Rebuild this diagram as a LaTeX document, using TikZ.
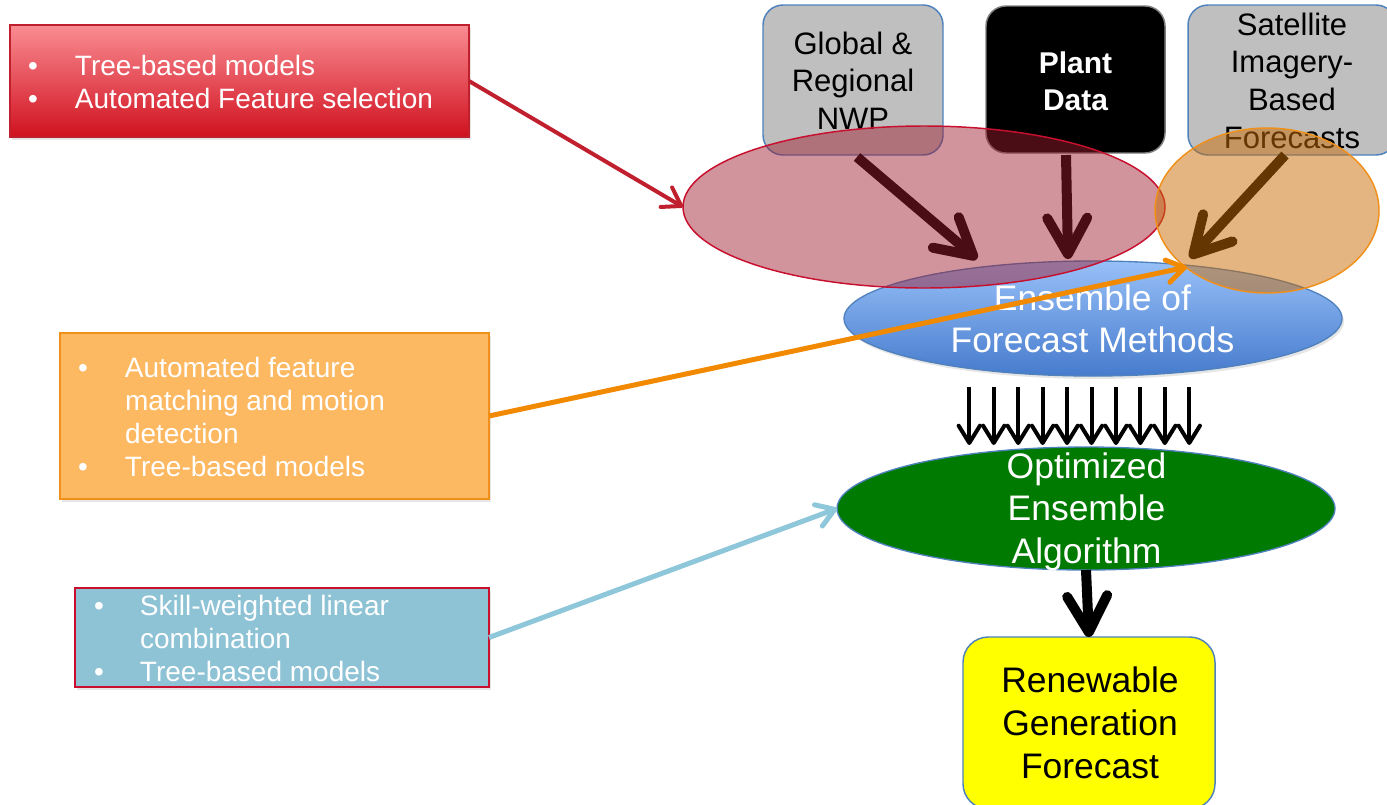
\documentclass[tikz,border=0pt]{standalone}
\usepackage{fontspec}
\setmainfont{Liberation Sans}
\usetikzlibrary{arrows.meta,shapes.geometric,shadows}
\definecolor{redtop}{HTML}{FA8C92}
\definecolor{redbot}{HTML}{D0111F}
\definecolor{redline}{HTML}{C01F2E}
\definecolor{orgfill}{HTML}{FDB862}
\definecolor{orgline}{HTML}{F0901A}
\definecolor{bluefill}{HTML}{8EC3D6}
\definecolor{blueboxline}{HTML}{C8102E}
\definecolor{boxline}{HTML}{4F81BD}
\definecolor{boxgray}{HTML}{BFBFBF}
\definecolor{plantline}{HTML}{7F7F7F}
\definecolor{enstop}{HTML}{98C0F8}
\definecolor{ensbot}{HTML}{467BCD}
\definecolor{grn}{HTML}{007A00}
\definecolor{ylw}{HTML}{FFFF00}
\definecolor{redellfill}{HTML}{9E1C2E}
\definecolor{redellline}{HTML}{C8102E}
\definecolor{orgellfill}{HTML}{C96C03}
\definecolor{arrorange}{HTML}{F18A00}
\definecolor{arrblue}{HTML}{8EC6DA}
\definecolor{arrred}{HTML}{C01F2E}
\newcommand{\mlines}[1]{\begin{tabular}[t]{@{}c@{}}#1\end{tabular}}
\newcommand{\blist}[2]{\begin{tabular}[t]{@{}p{#1}@{}l@{}}#2\end{tabular}}
\begin{document}
\begin{tikzpicture}[x=0.75pt,y=-0.75pt,
  every node/.style={inner sep=0pt,outer sep=0pt},
  shadowed/.style={drop shadow={shadow xshift=1.5pt,shadow yshift=-2.2pt,opacity=0.2}},
  lfont/.style={font=\fontsize{21}{24.75}\selectfont,text=white},
  tfont/.style={font=\fontsize{23.25}{28.4}\selectfont},
  pfont/.style={font=\bfseries\fontsize{22.5}{28.4}\selectfont,text=white},
  efont/.style={font=\fontsize{26.6}{31.5}\selectfont,text=white},
  gfont/.style={font=\fontsize{26.6}{31.9}\selectfont,text=white},
  yfont/.style={font=\fontsize{26.6}{32.25}\selectfont,text=black},
  topbox/.style={rectangle,rounded corners=15pt,draw=boxline,line width=1.1pt,fill=boxgray},
  bigarrow/.style={line width=7.5pt,-{Straight Barb[length=27pt,width=30pt,round]}},
  smallarrow/.style={line width=3pt,black,-{Straight Barb[length=13pt,width=16pt,round]}},
  thinarrow/.style={line width=#1,-{Straight Barb[length=13pt,width=17pt,round]}}
]
\useasboundingbox (0,0) rectangle (1387,804);

% left boxes
\node[rectangle,draw=redline,line width=1.1pt,top color=redtop,bottom color=redbot,
      minimum width=344.25pt,minimum height=84pt,shadowed] (redbox) at (239.5,81) {};
\node[lfont,anchor=base west] (redtxt) at (28,75)
  {\blist{35.25pt}{• & Tree-based models\\ • & Automated Feature selection}};

\node[rectangle,draw=orgline,line width=1.1pt,fill=orgfill,
      minimum width=321.75pt,minimum height=124.5pt,shadowed] (orgbox) at (274.5,416) {};
\node[lfont,anchor=base west] (orgtxt) at (78,377)
  {\blist{35.25pt}{• & Automated feature\\ & matching and motion\\ & detection\\ • & Tree-based models}};

\node[rectangle,draw=blueboxline,line width=1.1pt,fill=bluefill,
      minimum width=310.5pt,minimum height=74.25pt,shadowed] (bluebox) at (282,637.5) {};
\node[lfont,anchor=base west] (bluetxt) at (94,615)
  {\blist{34.5pt}{• & Skill-weighted linear\\ & combination\\ • & Tree-based models}};

% top boxes
\node[topbox,minimum width=135pt,minimum height=112.5pt] (nwp) at (853,80) {};
\node[tfont,anchor=base] (nwptxt) at (853,54) {\mlines{Global \&\\Regional\\NWP}};

\node[rectangle,rounded corners=15pt,draw=plantline,line width=1.1pt,fill=black,
      minimum width=134.25pt,minimum height=110.25pt] (plant) at (1075.5,79.5) {};
\node[pfont,anchor=base] (planttxt) at (1075.5,73) {\mlines{Plant\\Data}};

\node[topbox,minimum width=156pt,minimum height=112.5pt] (sat) at (1292,80) {};
\node[tfont,anchor=base] (sattxt) at (1292,35) {\mlines{Satellite\\Imagery-\\Based\\Forecasts}};

% ensemble ellipse
\node[ellipse,draw=boxline,line width=1pt,top color=enstop,bottom color=ensbot,
      minimum width=373.5pt,minimum height=86.25pt,shadowed] (ens) at (1093,318.5) {};
\node[efont,anchor=base] (enstxt) at (1092.5,310) {\mlines{Ensemble of\\Forecast Methods}};

% optimized ensemble
\node[ellipse,draw=boxline,line width=1pt,fill=grn,
      minimum width=373.5pt,minimum height=92.25pt] (opt) at (1086,508.5) {};
\node[gfont,anchor=base] (opttxt) at (1086.5,478) {\mlines{Optimized\\Ensemble\\Algorithm}};

% renewable generation forecast
\node[rectangle,rounded corners=19pt,draw=boxline,line width=1.1pt,fill=ylw,
      minimum width=189pt,minimum height=129pt] (rgf) at (1089,723) {};
\node[yfont,anchor=base] (rgftxt) at (1090,692) {\mlines{Renewable\\Generation\\Forecast}};

% dark arrows into the ensemble
\coordinate (a1s) at (857,157);
\coordinate (a1e) at (977,259);
\coordinate (a2s) at (1066,155);
\coordinate (a2e) at (1068,259);
\coordinate (a3s) at (1285,155);
\coordinate (a3e) at (1190,258);
\draw[bigarrow,black] (a1s) -- (a1e);
\draw[bigarrow,black] (a2s) -- (a2e);
\draw[bigarrow,black] (a3s) -- (a3e);

% translucent ellipses
\node[ellipse,draw=redellline,line width=1.1pt,fill=redellfill,fill opacity=0.47,
      minimum width=361.5pt,minimum height=121.5pt] (redell) at (924,207) {};
\node[ellipse,draw=orgline,line width=1.1pt,fill=orgellfill,fill opacity=0.5,
      minimum width=168pt,minimum height=123.75pt] (orgell) at (1267,210.5) {};

% many small arrows
\foreach \i in {0,...,9}{
  \pgfmathsetmacro\xx{969.3+24.44*\i}
  \coordinate (s\i) at (\xx,387);
  \coordinate (e\i) at (\xx,445);
  \draw[smallarrow] (s\i) -- (e\i);
}

% big black arrow
\draw[bigarrow,black] (opt.south) -- (rgf.north);

% coloured connectors
\coordinate (orgend) at (1187,267);
\draw[thinarrow=3pt,arrred] (redbox.east) -- (redell.west);
\draw[thinarrow=3.75pt,arrorange] (orgbox.east) -- (orgend);
\draw[thinarrow=3.75pt,arrblue] (bluebox.east) -- (opt.west);
\end{tikzpicture}
\end{document}
